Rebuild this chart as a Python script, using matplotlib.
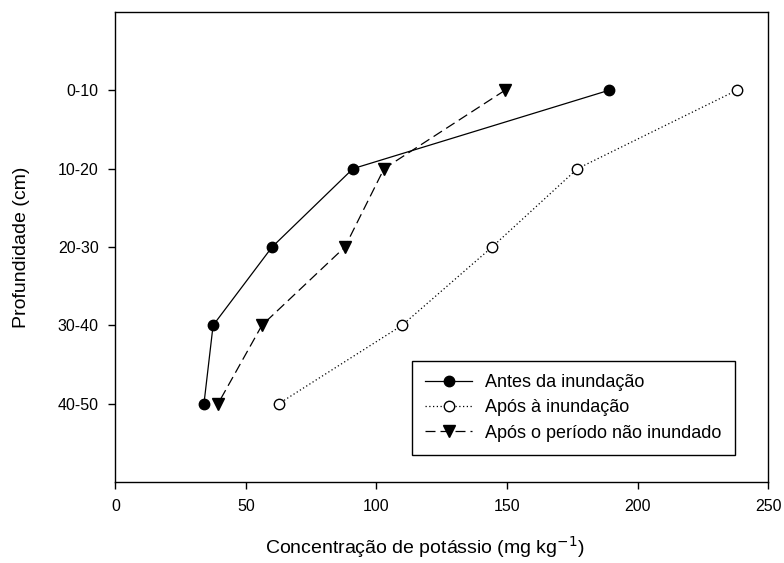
import matplotlib
matplotlib.use("Agg")
import matplotlib.pyplot as plt

plt.rcParams['font.family'] = ['Liberation Sans', 'DejaVu Sans']

# profundidade (categorias) e concentracao de K
depths = ["0-10", "10-20", "20-30", "30-40", "40-50"]
antes = [189, 91, 60, 37.4, 33.9]
apos = [238, 177, 144.3, 109.8, 62.6]
periodo = [149.2, 102.9, 87.9, 56.1, 39.3]
labels = ["Antes da inundação", "Após à inundação", "Após o período não inundado"]

ypos = list(range(1, len(depths) + 1))

fig = plt.figure(figsize=(7.84, 5.63), dpi=100)
ax = fig.add_axes([0.1473, 0.1439, 0.8323, 0.8348])

ax.plot(antes, ypos, color="black", lw=0.9, ls="-", marker="o",
        ms=7.5, mfc="black", mec="black", label=labels[0])
ax.plot(apos, ypos, color="black", lw=0.9, ls=(0, (1, 2)), marker="o",
        ms=7.5, mfc="white", mec="black", label=labels[1])
ax.plot(periodo, ypos, color="black", lw=0.9, ls=(0, (8, 4)), marker="v",
        ms=8.5, mfc="black", mec="black", label=labels[2])

ax.set_xlim(0, 250)
ax.set_ylim(6, 0)
ax.set_xticks([0, 50, 100, 150, 200, 250])
ax.set_yticks(ypos)
ax.set_yticklabels(depths)
ax.tick_params(direction="out", length=5, width=1, labelsize=11.5, pad=7)
for s in ax.spines.values():
    s.set_linewidth(1)

ax.set_xlabel("Concentração de potássio (mg kg$^{-1}$)", fontsize=14)
ax.xaxis.set_label_coords(0.474, -0.11)
ax.set_ylabel("Profundidade (cm)", fontsize=14, labelpad=20)

leg = ax.legend(loc="upper left", bbox_to_anchor=(0.454, 0.258), fontsize=13,
                fancybox=False, edgecolor="black", framealpha=1,
                handlelength=2.6, handletextpad=0.7, borderpad=0.75,
                labelspacing=0.45, borderaxespad=0)
leg.get_frame().set_linewidth(1)

fig.savefig("out.png", dpi=100)
